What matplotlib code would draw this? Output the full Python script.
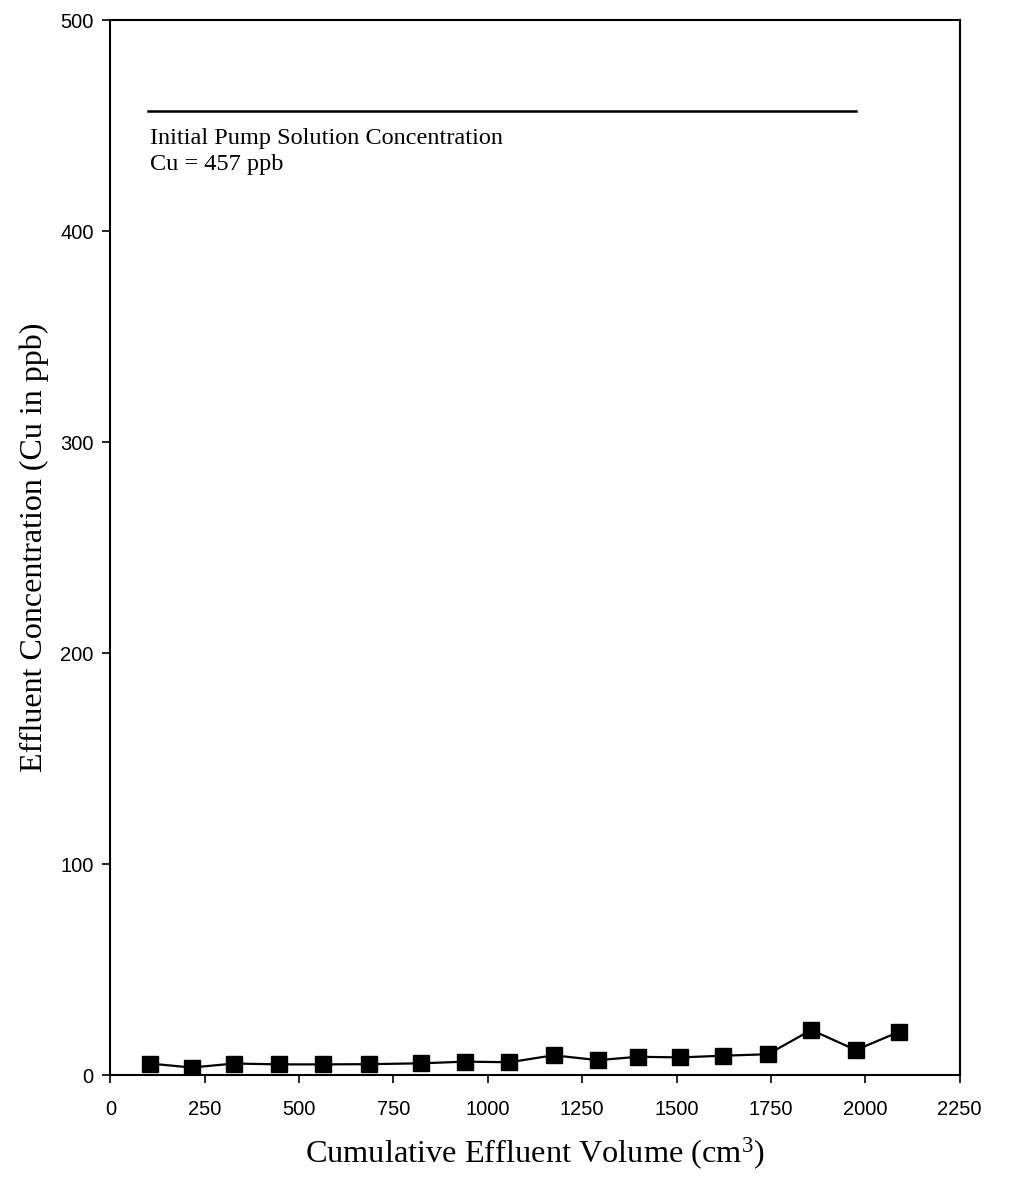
import matplotlib
matplotlib.use("Agg")
import matplotlib.pyplot as plt

plt.rcParams["mathtext.fontset"] = "custom"
plt.rcParams["mathtext.rm"] = "Liberation Serif"
plt.rcParams["mathtext.it"] = "Liberation Serif:italic"

# Data
volume = [104, 215, 328, 448, 564, 686, 824, 940, 1057, 1174, 1292, 1397, 1510, 1623, 1742, 1857, 1975, 2088]
cu_ppb = [5.6, 3.7, 5.6, 5.2, 5.2, 5.3, 5.7, 6.5, 6.2, 9.5, 7.2, 8.8, 8.5, 9.3, 10.0, 21.5, 12.0, 20.5]

initial_conc = 457
initial_x = [100, 1975]

x_ticks = [0, 250, 500, 750, 1000, 1250, 1500, 1750, 2000, 2250]
y_ticks = [0, 100, 200, 300, 400, 500]

fig = plt.figure(figsize=(10.22, 11.83), dpi=100)
ax = fig.add_axes([0.108, 0.091, 0.831, 0.892])

ax.plot(volume, cu_ppb, color="black", lw=1.6, marker="s", markersize=11,
        markerfacecolor="black", markeredgecolor="black")
ax.plot(initial_x, [initial_conc, initial_conc], color="black", lw=1.8)

ax.text(105, 444, "Initial Pump Solution Concentration", family="Liberation Serif",
        fontsize=17.5, va="center", ha="left")
ax.text(105, 431.5, "Cu = 457 ppb", family="Liberation Serif",
        fontsize=17.5, va="center", ha="left")

ax.set_xlim(0, 2250)
ax.set_ylim(0, 500)
ax.set_xticks(x_ticks)
ax.set_yticks(y_ticks)
ax.set_xticklabels([str(t) for t in x_ticks], family="Liberation Sans", fontsize=14.5)
ax.set_yticklabels([str(t) for t in y_ticks], family="Liberation Sans", fontsize=14.5)
ax.tick_params(axis="both", direction="out", length=6, width=1.2, color="black")
ax.tick_params(axis="x", pad=12)
ax.tick_params(axis="y", pad=6)
for s in ax.spines.values():
    s.set_linewidth(1.5)
    s.set_color("black")

ax.set_xlabel(r"Cumulative Effluent Volume (cm$^{\mathrm{3}}$)", family="Liberation Serif",
              fontsize=23.3, labelpad=12)
ax.set_ylabel("Effluent Concentration (Cu in ppb)", family="Liberation Serif",
              fontsize=23, labelpad=8)

fig.savefig("out.png", dpi=100)
